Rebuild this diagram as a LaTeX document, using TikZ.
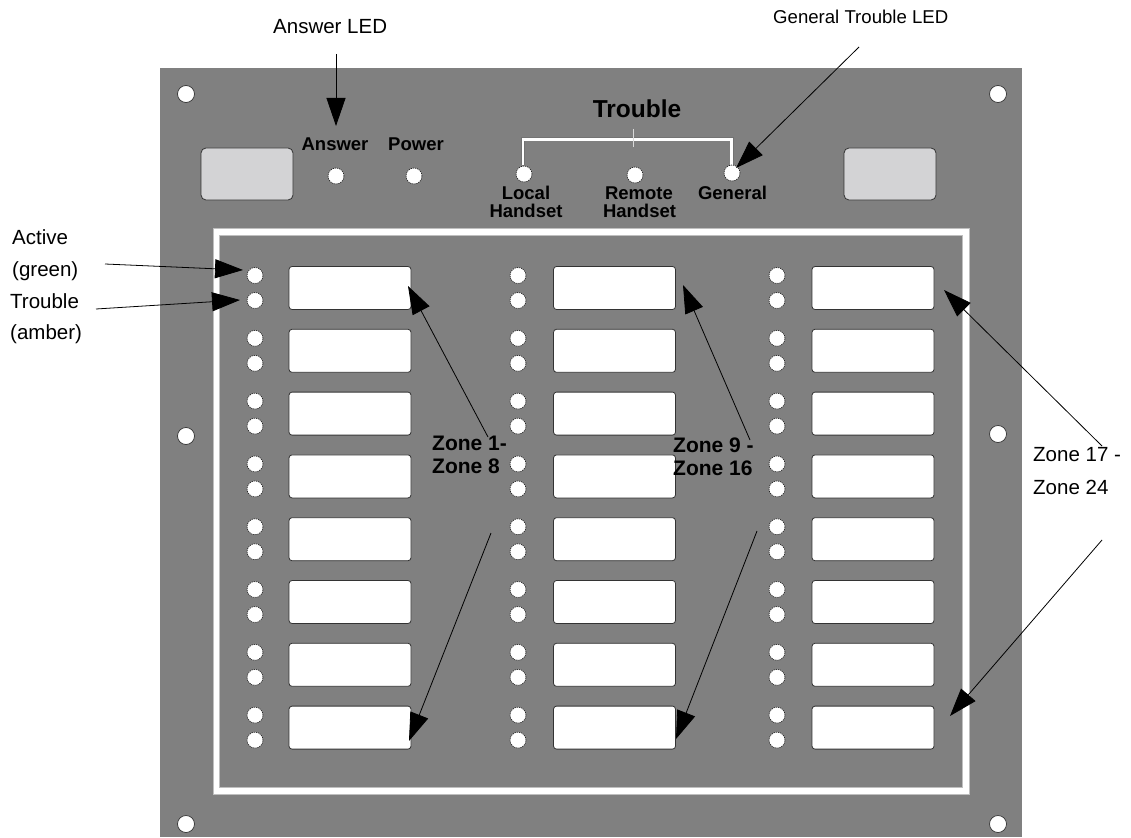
\documentclass[tikz,border=0pt]{standalone}
\usepackage{fontspec}
\setmainfont{Liberation Sans}
\usetikzlibrary{arrows.meta}
\definecolor{panelgray}{HTML}{808080}
\definecolor{wingray}{HTML}{D3D3D5}
\tikzset{
  led/.style={circle,fill=white,draw=black!85,line width=0.7pt,dash pattern=on 1.2pt off 0.9pt,minimum size=16pt,inner sep=0pt},
  hole/.style={circle,fill=white,draw=black!80,line width=0.7pt,minimum size=17pt,inner sep=0pt},
  btn/.style={rounded corners=3pt,fill=white,draw=black!80,line width=0.8pt,minimum width=122pt,minimum height=43pt,inner sep=0pt},
  winbox/.style={rounded corners=5pt,fill=wingray,draw=black!80,line width=0.8pt,minimum width=92pt,minimum height=52pt,inner sep=0pt},
  plbl/.style={font=\fontsize{18.5}{18}\selectfont\bfseries,inner sep=0pt,anchor=base},
  note/.style={font=\fontsize{20.5}{24}\selectfont,inner sep=0pt,anchor=base west},
  zlbl/.style={font=\fontsize{21}{23}\selectfont\bfseries,inner sep=0pt,anchor=base west},
  callout/.style={-{Triangle[length=28pt,width=19pt]},line width=0.8pt,draw=black},
}
\begin{document}
\begin{tikzpicture}[x=1pt,y=-1pt]
\useasboundingbox (0,0) rectangle (1131,837);
\fill[white] (0,0) rectangle (1131,837);
% panel
\fill[panelgray] (160,68) rectangle (1022,837);
% mounting holes
\node[hole] (h1) at (186,94) {};
\node[hole] (h2) at (998,94) {};
\node[hole] (h3) at (186,436) {};
\node[hole] (h4) at (998,434) {};
\node[hole] (h5) at (186,824) {};
\node[hole] (h6) at (998,824) {};
% windows
\node[winbox] (wl) at (247,174) {};
\node[winbox] (wr) at (890,174) {};
% answer / power
\node[plbl] (anstxt) at (335,150) {Answer};
\node[plbl] (powtxt) at (416,150) {Power};
\node[led] (ansled) at (336,176) {};
\node[led] (powled) at (414,176) {};
% trouble group
\node[plbl,font=\fontsize{24.5}{26}\selectfont\bfseries] (trtxt) at (637,118) {Trouble};
\draw[black!55,line width=4pt] (523,165) -- (523,139.5) -- (731.5,139.5) -- (731.5,165);
\draw[white,line width=2.6pt] (523,165) -- (523,139.5) -- (731.5,139.5) -- (731.5,165);
\draw[white!85!black,line width=1pt] (633,129) -- (633,147);
\node[led] (locled) at (524,174) {};
\node[led] (remled) at (635,175) {};
\node[led] (genled) at (732,173) {};
\node[plbl] (loc1) at (526,199) {Local};
\node[plbl] (loc2) at (526,217) {Handset};
\node[plbl] (rem1) at (639,199) {Remote};
\node[plbl] (rem2) at (639.5,217) {Handset};
\node[plbl] (gentxt) at (732.5,199) {General};
% zone frame
\draw[black!25,line width=7.5pt] (216.5,232) rectangle (966,791);
\draw[white,line width=5.5pt] (216.5,232) rectangle (966,791);
% zone rows
\foreach \c/\lx/\bx in {1/255/350,2/518/614.5,3/777/873}{
  \foreach \r in {1,...,8}{
    \pgfmathsetmacro\yy{288+62.8*(\r-1)}
    \node[led] (a\c-\r) at (\lx,\yy-12.5) {};
    \node[led] (t\c-\r) at (\lx,\yy+12.5) {};
    \node[btn] (b\c-\r) at (\bx,\yy) {};
  }
}
% annotation texts
\node[note] (ansled-lbl) at (273,33.5) {Answer LED};
\node[note,font=\fontsize{18.6}{22}\selectfont] (genled-lbl) at (773,23.5) {General Trouble LED};
\node[note] (act1) at (12,244) {Active};
\node[note] (act2) at (12,276) {(green)};
\node[note] (tr1) at (10,308) {Trouble};
\node[note] (tr2) at (10,339) {(amber)};
\node[zlbl] (z1a) at (432,450.5) {Zone 1-};
\node[zlbl] (z1b) at (432,473.5) {Zone 8};
\node[zlbl] (z2a) at (673,452.5) {Zone 9 -};
\node[zlbl] (z2b) at (673,475.5) {Zone 16};
\node[note] (z3a) at (1033,461.5) {Zone 17 -};
\node[note] (z3b) at (1033,494.5) {Zone 24};
% callout coordinates
\coordinate (ansS) at (336,54);   \coordinate (ansT) at (336,126);
\coordinate (genS) at (859,47);   \coordinate (genT) at (736,168);
\coordinate (actS) at (105,264);  \coordinate (actT) at (243,270);
\coordinate (trbS) at (96,309);   \coordinate (trbT) at (240,300);
\coordinate (z1uS) at (488,437);  \coordinate (z1uT) at (408,286);
\coordinate (z1dS) at (491,533);  \coordinate (z1dT) at (409,741);
\coordinate (z2uS) at (750,440);  \coordinate (z2uT) at (683,285);
\coordinate (z2dS) at (757,531);  \coordinate (z2dT) at (676,739);
\coordinate (z3uS) at (1102,446); \coordinate (z3uT) at (944,290);
\coordinate (z3dS) at (1102,540); \coordinate (z3dT) at (950,716);
\draw[callout] (ansS) -- (ansT);
\draw[callout] (genS) -- (genT);
\draw[callout] (actS) -- (actT);
\draw[callout] (trbS) -- (trbT);
\draw[callout] (z1uS) -- (z1uT);
\draw[callout] (z1dS) -- (z1dT);
\draw[callout] (z2uS) -- (z2uT);
\draw[callout] (z2dS) -- (z2dT);
\draw[callout] (z3uS) -- (z3uT);
\draw[callout] (z3dS) -- (z3dT);
\end{tikzpicture}
\end{document}
